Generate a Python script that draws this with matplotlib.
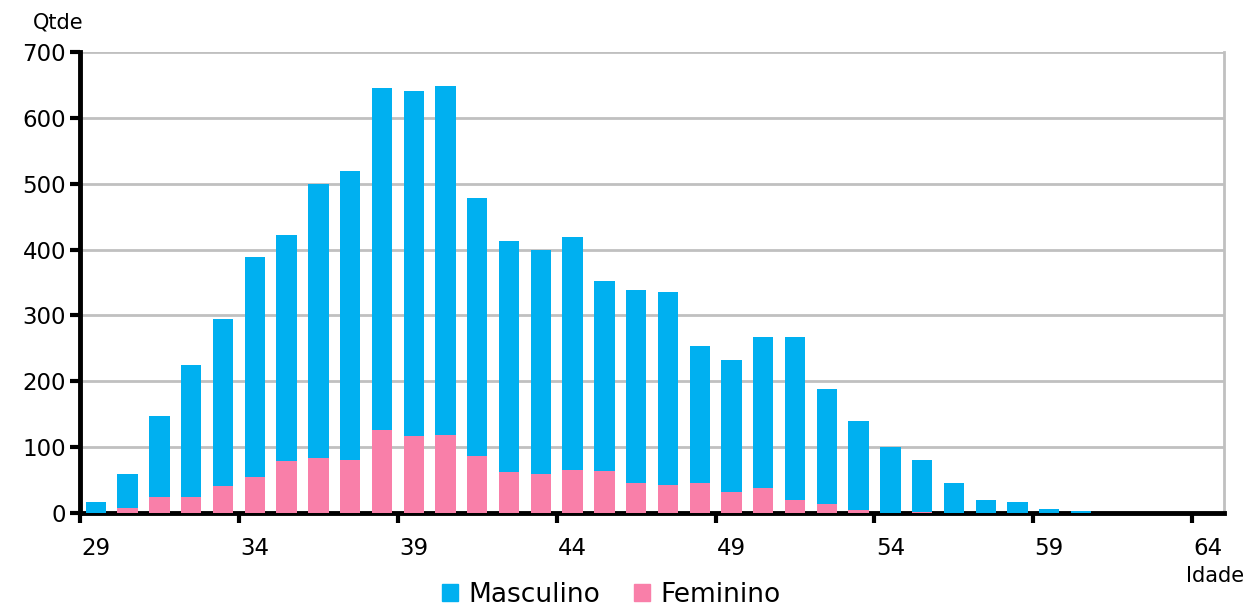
import numpy as np
import matplotlib.pyplot as plt
from matplotlib.patches import Patch

plt.rcParams['font.family'] = ['DejaVu Sans']

# ages 29..64
idades = list(range(29, 65))
masculino = [17, 52, 124, 199, 253, 333, 343, 416, 439, 520, 524, 531, 391, 350, 341, 353,
             289, 293, 293, 208, 200, 229, 247, 176, 136, 100, 79, 45, 20, 16, 6, 3, 0, 0, 0, 0]
feminino = [0, 7, 24, 25, 41, 55, 79, 83, 80, 126, 117, 118, 87, 63, 59, 66,
            64, 46, 42, 45, 32, 38, 20, 13, 4, 0, 1, 0, 0, 0, 0, 0, 0, 0, 0, 0]

azul = '#00B0F0'
rosa = '#F97FA9'

fig = plt.figure(figsize=(12.48, 6.08), dpi=100)
ax = fig.add_axes([0.0641, 0.1562, 0.9167, 0.7583])

x = np.arange(len(idades))
ax.bar(x, feminino, width=0.64, color=rosa, zorder=3)
ax.bar(x, masculino, width=0.64, bottom=feminino, color=azul, zorder=3)

ax.set_xlim(-0.5, len(idades) - 0.5)
ax.set_ylim(0, 700)
ax.set_yticks(range(0, 701, 100))
ax.yaxis.grid(True, color='#C0C0C0', linewidth=2, zorder=0)
ax.tick_params(axis='y', labelsize=16.5, length=7, width=3, direction='out', pad=3)

# labels on categories, tick marks between categories
ax.set_xticks(x[::5])
ax.set_xticklabels([str(a) for a in idades[::5]])
ax.set_xticks(np.arange(-0.5, len(idades), 5), minor=True)
ax.tick_params(axis='x', which='major', length=0, labelsize=16.5, pad=17)
ax.tick_params(axis='x', which='minor', length=7, width=3, direction='out')

for s in ['left', 'bottom']:
    ax.spines[s].set_linewidth(3.5)
    ax.spines[s].set_color('black')
ax.spines['right'].set_color('#C0C0C0')
ax.spines['right'].set_linewidth(2)
ax.spines['top'].set_visible(False)

fig.text(0.026, 0.963, 'Qtde', fontsize=15, ha='left', va='center')
fig.text(0.997, 0.052, 'Idade', fontsize=15, ha='right', va='center')

handles = [Patch(color=azul, label='Masculino'), Patch(color=rosa, label='Feminino')]
fig.legend(handles=handles, loc='center', bbox_to_anchor=(0.49, 0.022), ncol=2, frameon=False,
           fontsize=19, handlelength=0.6, handleheight=0.6, handletextpad=0.4, columnspacing=1.3)

fig.savefig('out.png', dpi=100)
